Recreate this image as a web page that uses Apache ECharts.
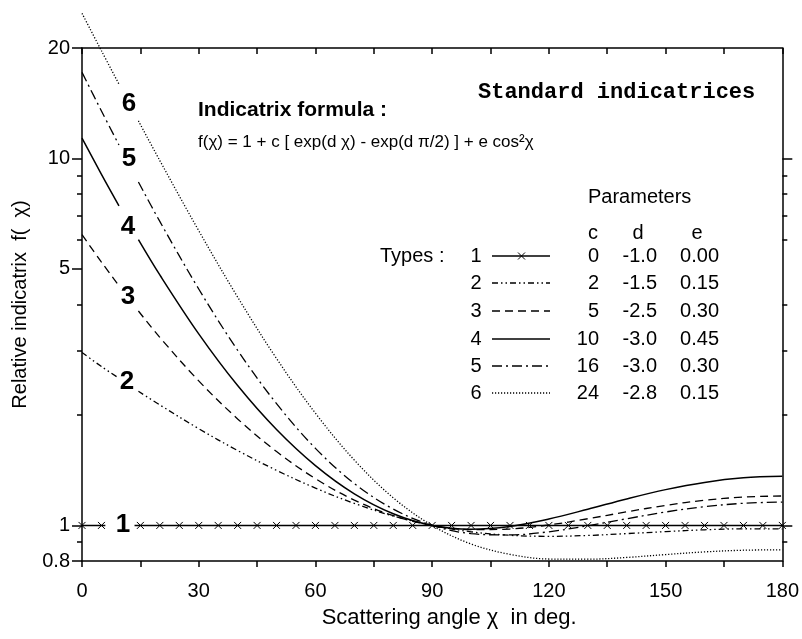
<!DOCTYPE html>
<html>
<head>
<meta charset="utf-8">
<script src="https://cdn.jsdelivr.net/npm/echarts@6/dist/echarts.min.js"></script>
<style>
html, body { margin: 0; padding: 0; background: #fff; }
#chart { width: 802px; height: 639px; }
</style>
</head>
<body>
<div id="chart"></div>
<script>
// scattering angle in degrees, '-' marks the break left for the curve number
var angles = [0, 5, 9.5, 12, 14.5, 20, 30, 40, 50, 60, 70, 80, 90, 100, 110, 120, 130, 140, 150, 160, 170, 180];
var type2 = [2.96, 2.71, 2.52, '-', 2.32, 2.13, 1.835, 1.60, 1.413, 1.264, 1.148, 1.061, 1.0, 0.961, 0.940, 0.934, 0.939, 0.950, 0.962, 0.973, 0.979, 0.978];
var type3 = [6.20, 5.22, 4.50, '-', 3.84, 3.255, 2.477, 1.951, 1.590, 1.341, 1.172, 1.063, 1.0, 0.974, 0.978, 1.003, 1.043, 1.089, 1.134, 1.171, 1.195, 1.203];
var type4 = [11.36, 9.05, 7.43, '-', 6.01, 4.816, 3.327, 2.405, 1.825, 1.455, 1.219, 1.076, 1.0, 0.977, 0.994, 1.041, 1.107, 1.181, 1.252, 1.310, 1.348, 1.361];
var type5 = [17.16, 13.47, 10.88, '-', 8.63, 6.736, 4.408, 3.002, 2.147, 1.622, 1.301, 1.108, 1.0, 0.950, 0.942, 0.961, 0.998, 1.043, 1.088, 1.125, 1.149, 1.158];
var type6 = [24.86, 19.65, 15.94, '-', 12.66, 9.869, 6.357, 4.191, 2.850, 2.022, 1.507, 1.189, 1.0, 0.890, 0.834, 0.810, 0.809, 0.818, 0.833, 0.847, 0.856, 0.858];

// type 1 is flat, crosses every 5 deg
var anglesType1 = [0, 5, 6, 10, 13.5, 15, 20, 25, 30, 35, 40, 45, 50, 55, 60, 65, 70, 75, 80, 85, 90,
  95, 100, 105, 110, 115, 120, 125, 130, 135, 140, 145, 150, 155, 160, 165, 170, 175, 180];
var type1 = [1, 1, 1, '-', 1, 1, 1, 1, 1, 1, 1, 1, 1, 1, 1, 1, 1, 1, 1, 1, 1,
  1, 1, 1, 1, 1, 1, 1, 1, 1, 1, 1, 1, 1, 1, 1, 1, 1, 1];
var type1NoMark = [6, 13.5];

// legend table
var typeIds = ['1', '2', '3', '4', '5', '6'];
var paramC = [0, 2, 5, 10, 16, 24];
var paramD = [-1.0, -1.5, -2.5, -3.0, -3.0, -2.8];
var paramE = [0.00, 0.15, 0.30, 0.45, 0.30, 0.15];

var yMajor = [0.8, 1, 5, 10, 20];
var yMinor = [0.9, 2, 3, 4, 6, 7, 8, 9];

var FONT = '"Liberation Sans", Arial, sans-serif';
var dashes = [null, [6, 3, 1.5, 3, 1.5, 3], [8, 5], null, [10, 4, 2, 4], [1.2, 1.8]];
var widths = [1.5, 1.3, 1.3, 1.5, 1.3, 1.3];

function pairs(xs, ys) {
  return xs.map(function (x, i) { return [x, ys[i]]; });
}

var series = [];
series.push({
  name: '1',
  type: 'line',
  data: anglesType1.map(function (x, i) {
    if (type1NoMark.indexOf(x) >= 0) return { value: [x, type1[i]], symbol: 'none' };
    return [x, type1[i]];
  }),
  symbol: 'path://M0,0L10,10M10,0L0,10',
  symbolSize: 7,
  showSymbol: true,
  itemStyle: { color: 'none', borderColor: '#000', borderWidth: 1 },
  lineStyle: { color: '#000', width: widths[0] },
  silent: true,
  animation: false,
  z: 3
});
[type2, type3, type4, type5, type6].forEach(function (ys, k) {
  var idx = k + 1;
  series.push({
    name: typeIds[idx],
    type: 'line',
    data: pairs(angles, ys),
    smooth: 0.35,
    showSymbol: false,
    clip: false, // curve 6 runs above the frame at 0 deg
    lineStyle: { color: '#000', width: widths[idx], type: dashes[idx] || 'solid' },
    silent: true,
    animation: false
  });
});

function logAxis(pos, tickVals, len, showLine) {
  return {
    type: 'log', logBase: 10, min: 0.8, max: 20, position: pos,
    axisLine: { show: showLine, lineStyle: { color: '#000', width: 1.5 } },
    axisTick: { show: true, length: len, customValues: tickVals, lineStyle: { color: '#000', width: 1.5 } },
    axisLabel: { show: false },
    splitLine: { show: false }
  };
}

var yLeft = logAxis('left', yMajor, 10, true);
yLeft.axisLabel = { show: true, customValues: yMajor, fontFamily: FONT, fontSize: 20, color: '#000', margin: 12 };
yLeft.name = 'Relative indicatrix  f(  χ)';
yLeft.nameLocation = 'middle';
yLeft.nameGap = 52;
yLeft.nameTextStyle = { fontFamily: FONT, fontSize: 20, color: '#000' };

function xAxisDef(pos, inside, showLabel) {
  return {
    type: 'value', min: 0, max: 180, interval: 30, position: pos,
    axisLine: { show: true, onZero: false, lineStyle: { color: '#000', width: 1.5 } },
    axisTick: { show: true, inside: inside, length: 6, lineStyle: { color: '#000', width: 1.5 } },
    minorTick: { show: true, splitNumber: 2, length: 6, lineStyle: { color: '#000', width: 1.5 } },
    axisLabel: { show: showLabel, fontFamily: FONT, fontSize: 20, color: '#000', margin: 20 },
    splitLine: { show: false }
  };
}
var xBottom = xAxisDef('bottom', false, true);
xBottom.name = 'Scattering angle χ  in deg.';
xBottom.nameLocation = 'middle';
xBottom.nameGap = 46;
xBottom.nameTextStyle = { fontFamily: FONT, fontSize: 22, color: '#000', padding: [0, 0, 0, 34] };

// texts drawn on top of the plot
function txt(x, y, s, font, align) {
  return {
    type: 'text', x: x, y: y, z: 100, silent: true,
    style: { text: s, fill: '#000', font: font, textAlign: align || 'left', textVerticalAlign: 'middle', align: align || 'left', verticalAlign: 'middle' }
  };
}
var graphics = [];
graphics.push(txt(478, 92, 'Standard indicatrices', 'bold 22px "Liberation Mono", monospace'));
graphics.push(txt(198, 110, 'Indicatrix formula :', 'bold 21px ' + FONT));
graphics.push(txt(198, 142, 'f(χ) = 1 + c [ exp(d χ) - exp(d π/2) ] + e cos²χ', '17px ' + FONT));

var curveLabelPos = [[123, 525], [127, 382], [128, 297], [128, 227], [129, 159], [129, 104]];
curveLabelPos.forEach(function (p, i) {
  graphics.push(txt(p[0], p[1], typeIds[i], 'bold 26px ' + FONT, 'center'));
});

graphics.push(txt(588, 197, 'Parameters', '20px ' + FONT));
graphics.push(txt(593, 233, 'c', '20px ' + FONT, 'center'));
graphics.push(txt(638, 233, 'd', '20px ' + FONT, 'center'));
graphics.push(txt(697, 233, 'e', '20px ' + FONT, 'center'));
graphics.push(txt(380, 256, 'Types :', '20px ' + FONT));
var rowY = [256, 283, 311, 339, 366, 393];
typeIds.forEach(function (id, i) {
  var y = rowY[i];
  graphics.push(txt(476, y, id, '20px ' + FONT, 'center'));
  graphics.push({
    type: 'line', z: 100, silent: true,
    shape: { x1: 492, y1: y, x2: 550, y2: y },
    style: { stroke: '#000', lineWidth: widths[i], lineDash: dashes[i] || null }
  });
  graphics.push(txt(599, y, String(paramC[i]), '20px ' + FONT, 'right'));
  graphics.push(txt(657, y, paramD[i].toFixed(1), '20px ' + FONT, 'right'));
  graphics.push(txt(719, y, paramE[i].toFixed(2), '20px ' + FONT, 'right'));
});
// cross on the type 1 sample
graphics.push({ type: 'line', z: 100, silent: true, shape: { x1: 518, y1: rowY[0] - 3.5, x2: 525, y2: rowY[0] + 3.5 }, style: { stroke: '#000', lineWidth: 1 } });
graphics.push({ type: 'line', z: 100, silent: true, shape: { x1: 518, y1: rowY[0] + 3.5, x2: 525, y2: rowY[0] - 3.5 }, style: { stroke: '#000', lineWidth: 1 } });

var option = {
  backgroundColor: '#fff',
  animation: false,
  grid: { left: 82, right: 17, top: 48, bottom: 78, containLabel: false },
  xAxis: [xBottom, xAxisDef('top', true, false)],
  yAxis: [
    yLeft,
    logAxis('left', yMinor, 5, false),
    logAxis('right', [1, 10], 10, true),
    logAxis('right', yMinor, 5, false)
  ],
  series: series,
  graphic: { elements: graphics }
};

var myChart = echarts.init(document.getElementById('chart'));
myChart.setOption(option);
window.onresize = function () {
  myChart.resize();
};
</script>
</body>
</html>
